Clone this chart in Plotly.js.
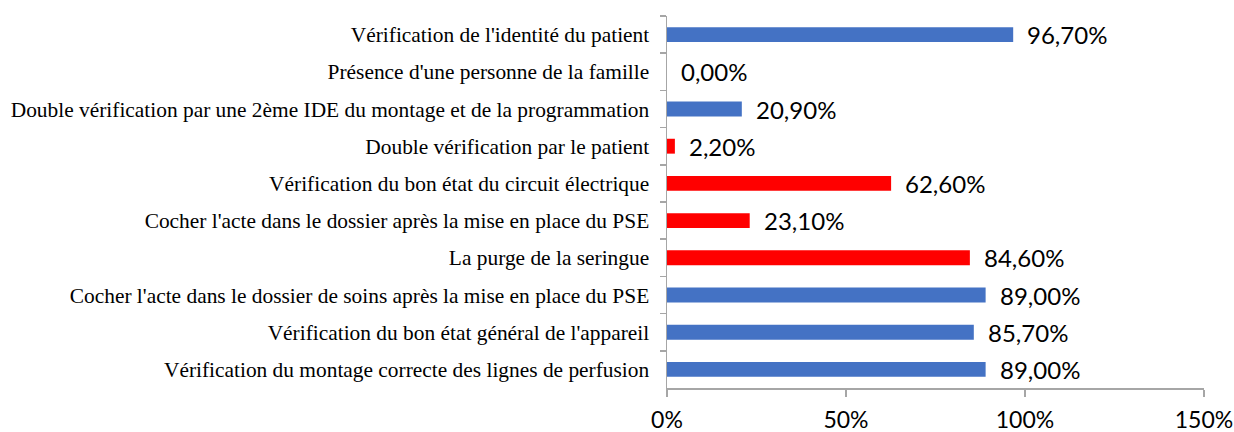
<!DOCTYPE html>
<html>
<head>
<meta charset="utf-8">
<script src="https://cdn.plot.ly/plotly-3.0.1.min.js"></script>
<style>html,body{margin:0;padding:0;background:#fff;} #chart{width:1234px;height:432px;}</style>
</head>
<body>
<div id="chart"></div>
<script>
const categories = [
  "Vérification de l'identité du patient",
  "Présence d'une personne de la famille",
  "Double vérification par une 2ème IDE du montage et de la programmation",
  "Double vérification par le patient",
  "Vérification du bon état du circuit électrique",
  "Cocher l'acte dans le dossier après la mise en place du PSE",
  "La purge de la seringue",
  "Cocher l'acte dans le dossier de soins après la mise en place du PSE",
  "Vérification du bon état général de l'appareil",
  "Vérification du montage correcte des lignes de perfusion"
];
const values = [96.7, 0, 20.9, 2.2, 62.6, 23.1, 84.6, 89.0, 85.7, 89.0];
const barColors = ["#4472C4", "#4472C4", "#4472C4", "#FF0000", "#FF0000", "#FF0000", "#FF0000", "#4472C4", "#4472C4", "#4472C4"];
const xTickValues = [0, 50, 100, 150];
const xTickLabels = ["0%", "50%", "100%", "150%"];

const labels = values.map(v => v.toFixed(2).replace('.', ',') + '%');

const trace = {
  type: 'bar',
  orientation: 'h',
  x: values,
  y: categories,
  marker: { color: barColors, line: { width: 0 } },
  hoverinfo: 'none'
};

const annotations = values.map((v, i) => ({
  x: v, y: categories[i], xref: 'x', yref: 'y',
  text: labels[i], showarrow: false, xanchor: 'left', yanchor: 'middle',
  xshift: 12, yshift: 0,
  font: { family: 'Lato, "Open Sans", sans-serif', size: 24, color: '#000' }
}));

const layout = {
  width: 1234, height: 432,
  margin: { l: 667, r: 30, t: 16, b: 43.5 },
  paper_bgcolor: '#fff', plot_bgcolor: '#fff',
  showlegend: false,
  bargap: 0.6,
  xaxis: {
    range: [0, 150], tickvals: xTickValues, ticktext: xTickLabels,
    showgrid: false, zeroline: false,
    showline: true, linecolor: '#a6a6a6', linewidth: 1.5,
    ticks: 'outside', ticklen: 7, tickcolor: '#a6a6a6', tickwidth: 1.5,
    ticklabelstandoff: 4,
    tickfont: { family: 'Lato, "Open Sans", sans-serif', size: 23, color: '#000' },
    fixedrange: true
  },
  yaxis: {
    type: 'category', categoryorder: 'array', categoryarray: categories,
    autorange: 'reversed',
    showgrid: false, zeroline: false,
    showline: true, linecolor: '#a6a6a6', linewidth: 1.5,
    ticks: 'outside', ticklen: 6, tickcolor: '#a6a6a6', tickwidth: 1.5,
    tickson: 'boundaries',
    ticklabelstandoff: 12,
    tickfont: { family: '"Liberation Serif", "Times New Roman", serif', size: 21.4, color: '#000' },
    fixedrange: true
  },
  annotations: annotations
};

Plotly.newPlot('chart', [trace], layout, { displayModeBar: false, staticPlot: true });
</script>
</body>
</html>
